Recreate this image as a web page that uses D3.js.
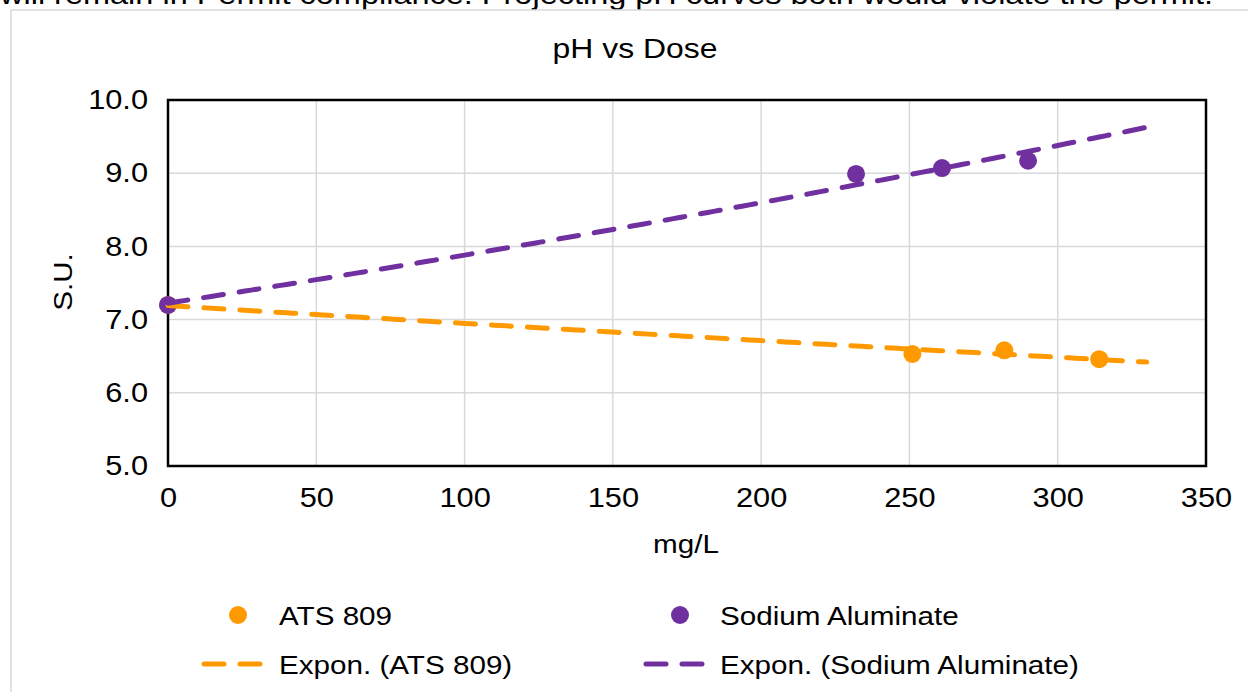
<!DOCTYPE html>
<html><head><meta charset="utf-8">
<script src="https://cdn.jsdelivr.net/npm/d3@7"></script>
<style>body{margin:0;background:#fff;} text{font-family:"Liberation Sans",Arial,sans-serif;fill:#000;}</style>
</head><body><svg id="c" width="1248" height="692"></svg>
<script>
const headerText = "will remain in Permit compliance. Projecting pH curves both would violate the permit.";
const chartTitle = "pH vs Dose";
const xTitle = "mg/L", yTitle = "S.U.";
const xTicks = [0,50,100,150,200,250,300,350];
const yTicks = [5,6,7,8,9,10];
const atsDose = [0,251,282,314];
const atsPH = [7.2,6.53,6.58,6.46];
const naDose = [0,232,261,290];
const naPH = [7.2,8.99,9.07,9.17];
const seriesNames = ["ATS 809","Sodium Aluminate"];
const trendNames = ["Expon. (ATS 809)","Expon. (Sodium Aluminate)"];
const forwardTo = 330;
const colors = ["#FF9900","#7030A0"];

const SX = 1.14;
const svg = d3.select("#c");
const L=168,R=1206,T=100,B=466;
const x = d3.scaleLinear().domain([0,350]).range([L,R]);
const y = d3.scaleLinear().domain([5,10]).range([B,T]);

function label(px,py,str,size,anchor,rot){
  return svg.append("text")
    .attr("transform",`translate(${px},${py})${rot?` rotate(${rot})`:""} scale(${SX},1)`)
    .attr("text-anchor",anchor||"start").attr("font-size",size).text(str);
}

label(0,4,headerText,28.5);
svg.append("rect").attr("x",11).attr("y",10).attr("width",1300).attr("height",700)
  .attr("fill","none").attr("stroke","#d9d9d9").attr("stroke-width",1.5);

label(635,58,chartTitle,28,"middle");

// grid
svg.append("g").selectAll("line").data(xTicks).join("line")
  .attr("x1",d=>x(d)).attr("x2",d=>x(d)).attr("y1",T).attr("y2",B).attr("stroke","#d9d9d9").attr("stroke-width",1.5);
svg.append("g").selectAll("line").data(yTicks).join("line")
  .attr("x1",L).attr("x2",R).attr("y1",d=>y(d)).attr("y2",d=>y(d)).attr("stroke","#d9d9d9").attr("stroke-width",1.5);

// axes
const xa = svg.append("g").attr("transform",`translate(0,${B})`).call(d3.axisBottom(x).tickValues(xTicks).tickSize(0).tickPadding(22));
const ya = svg.append("g").attr("transform",`translate(${L},0)`).call(d3.axisLeft(y).tickValues(yTicks).tickFormat(d3.format(".1f")).tickSize(0).tickPadding(20/SX));
[xa,ya].forEach(g=>{g.select(".domain").remove();g.selectAll("text").attr("font-size",27).attr("transform",`scale(${SX},1)`).attr("font-family","Liberation Sans, Arial, sans-serif").attr("fill","#000");});

svg.append("rect").attr("x",L).attr("y",T).attr("width",R-L).attr("height",B-T)
  .attr("fill","none").attr("stroke","#000").attr("stroke-width",2.5);

label(686,553,xTitle,26,"middle");
label(72,282,yTitle,26,"middle",-90);

// exponential fit
function expFit(xs,ys){
  const ly=ys.map(Math.log);
  const mx=d3.mean(xs), my=d3.mean(ly);
  let sxy=0,sxx=0; xs.forEach((v,i)=>{sxy+=(v-mx)*(ly[i]-my);sxx+=(v-mx)*(v-mx);});
  const b=sxy/sxx, a=Math.exp(my-b*mx);
  return d=>a*Math.exp(b*d);
}
const series=[{xs:atsDose,ys:atsPH},{xs:naDose,ys:naPH}];
series.forEach((s,i)=>{
  svg.append("g").selectAll("circle").data(s.xs.map((d,j)=>[d,s.ys[j]])).join("circle")
    .attr("cx",d=>x(d[0])).attr("cy",d=>y(d[1])).attr("r",9).attr("fill",colors[i]);
});
series.forEach((s,i)=>{
  const f=expFit(s.xs,s.ys);
  const pts=d3.range(0,forwardTo+0.001,2).map(d=>[d,f(d)]);
  svg.append("path").attr("d",d3.line().x(d=>x(d[0])).y(d=>y(d[1]))(pts))
    .attr("fill","none").attr("stroke",colors[i]).attr("stroke-width",5)
    .attr("stroke-dasharray","20,16").attr("stroke-linecap","round");
});

// legend
const legX=[238,680], legTX=[279,720], row1=615,row2=664;
seriesNames.forEach((n,i)=>{
  svg.append("circle").attr("cx",legX[i]).attr("cy",row1).attr("r",9).attr("fill",colors[i]);
  label(legTX[i],row1+10,n,26);
});
trendNames.forEach((n,i)=>{
  svg.append("line").attr("x1",legX[i]-34).attr("x2",legX[i]+22).attr("y1",row2).attr("y2",row2)
    .attr("stroke",colors[i]).attr("stroke-width",5).attr("stroke-dasharray","20,16").attr("stroke-linecap","round");
  label(legTX[i],row2+10,n,26);
});
</script></body></html>
